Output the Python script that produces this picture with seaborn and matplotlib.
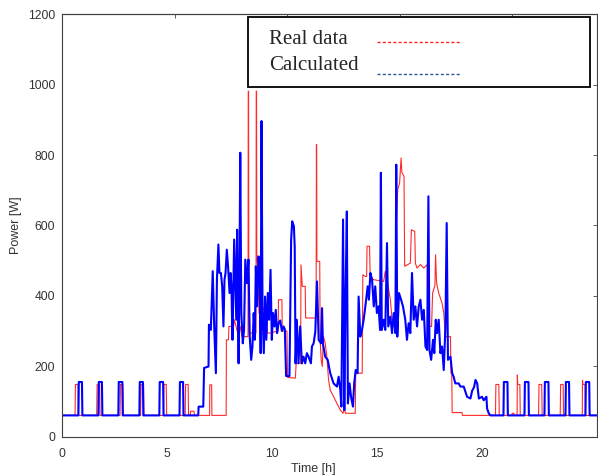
import matplotlib
matplotlib.use("Agg")
import matplotlib.pyplot as plt
import matplotlib.patches as mpatches
from matplotlib.lines import Line2D
import seaborn as sns
import pandas as pd

# ---------------- data (time [h], power [W]) ----------------
real_pts = [
    (0, 60), (0.62, 60), (0.64, 148), (0.76, 148), (0.78, 60),
    (1.65, 60), (1.67, 148), (1.79, 148), (1.81, 60),
    (2.76, 60), (2.78, 148), (2.90, 148), (2.92, 60),
    (3.74, 60), (3.76, 148), (3.88, 148), (3.90, 60),
    (4.83, 60), (4.85, 148), (4.96, 148), (4.98, 60),
    (5.86, 60), (5.88, 148), (6.00, 148), (6.02, 60),
    (6.10, 60), (6.12, 72), (6.28, 72), (6.30, 60),
    (7.02, 60), (7.03, 147), (7.12, 147), (7.13, 60),
    (7.81, 60), (7.82, 275), (7.92, 275), (7.94, 313), (8.16, 313), (8.20, 332),
    (8.40, 284), (8.48, 313), (8.56, 284), (8.85, 284), (8.86, 982), (8.875, 982),
    (8.885, 522), (8.91, 294), (9.23, 294), (9.24, 982), (9.255, 982), (9.265, 522),
    (9.32, 465), (9.37, 351), (9.43, 351), (9.55, 360), (9.67, 370), (9.78, 294),
    (9.90, 294), (10.28, 300), (10.30, 389), (10.46, 389), (10.48, 300), (10.70, 300),
    (10.73, 168), (11.10, 166), (11.14, 208), (11.35, 208), (11.37, 488), (11.43, 427),
    (11.57, 427), (11.59, 337), (12.09, 337), (12.10, 830), (12.115, 830), (12.125, 498),
    (12.26, 498), (12.28, 275), (12.33, 218), (12.38, 199), (12.44, 284), (12.52, 265),
    (12.60, 227), (12.68, 161), (12.76, 132), (12.92, 113), (13.08, 94), (13.24, 75),
    (13.37, 66), (13.43, 80), (13.49, 66), (13.95, 66), (13.97, 180), (14.28, 180),
    (14.31, 460), (14.43, 455), (14.49, 455), (14.51, 541), (14.63, 541), (14.66, 455),
    (14.82, 446), (15.30, 441), (15.38, 470), (15.46, 446), (15.62, 389), (15.70, 332),
    (15.86, 332), (15.90, 598), (15.97, 702), (16.06, 721), (16.13, 792), (16.17, 750),
    (16.27, 740), (16.30, 484), (16.57, 493), (16.62, 588), (16.78, 583), (16.81, 493),
    (16.89, 479), (17.05, 489), (17.21, 479), (17.37, 489), (17.40, 313), (17.58, 313),
    (17.63, 408), (17.74, 430), (17.77, 517), (17.82, 436), (17.92, 408), (18.08, 379),
    (18.16, 351), (18.24, 284), (18.48, 284), (18.50, 180), (18.54, 180), (18.56, 68),
    (19.03, 68), (19.05, 60),
    (20.62, 60), (20.64, 148), (20.78, 148), (20.80, 60),
    (21.40, 60), (21.42, 66), (21.50, 66), (21.52, 60),
    (21.65, 60), (21.66, 175), (21.68, 148), (21.78, 148), (21.80, 60),
    (22.67, 60), (22.69, 148), (22.82, 148), (22.84, 60),
    (23.70, 60), (23.72, 148), (23.84, 148), (23.86, 60),
    (24.75, 60), (24.76, 160), (24.78, 148), (24.88, 148), (24.90, 60),
    (25.45, 60),
]

calc_pts = [
    (0, 60), (0.78, 60), (0.80, 155), (0.95, 155), (0.97, 60),
    (1.73, 60), (1.75, 155), (1.90, 155), (1.92, 60),
    (2.68, 60), (2.70, 155), (2.87, 155), (2.89, 60),
    (3.68, 60), (3.70, 155), (3.85, 155), (3.87, 60),
    (4.63, 60), (4.65, 155), (4.81, 155), (4.83, 60),
    (5.59, 60), (5.61, 155), (5.76, 155), (5.78, 60),
    (6.48, 60), (6.50, 85), (6.72, 85), (6.76, 195), (6.97, 199), (6.99, 318),
    (7.08, 303), (7.17, 470), (7.24, 313), (7.32, 180), (7.37, 446), (7.44, 546),
    (7.49, 465), (7.56, 465), (7.62, 427), (7.68, 313), (7.73, 446), (7.78, 465),
    (7.84, 531), (7.90, 484), (7.97, 408), (8.02, 465), (8.06, 427), (8.11, 275),
    (8.19, 560), (8.24, 446), (8.29, 332), (8.33, 588), (8.40, 208), (8.44, 446),
    (8.48, 807), (8.53, 351), (8.60, 265), (8.66, 303), (8.72, 503), (8.80, 436),
    (8.87, 503), (8.93, 284), (9.00, 218), (9.06, 256), (9.12, 351), (9.17, 275),
    (9.22, 484), (9.28, 370), (9.35, 512), (9.41, 446), (9.45, 237), (9.49, 897),
    (9.54, 351), (9.60, 237), (9.66, 398), (9.72, 275), (9.79, 408), (9.85, 332),
    (9.92, 474), (9.98, 275), (10.04, 351), (10.11, 313), (10.17, 360), (10.23, 294),
    (10.30, 322), (10.38, 330), (10.46, 300), (10.54, 313), (10.60, 305), (10.66, 172),
    (10.82, 172), (10.90, 560), (10.95, 612), (11.03, 598), (11.07, 540), (11.11, 208),
    (11.17, 332), (11.25, 208), (11.33, 313), (11.41, 208), (11.49, 227), (11.57, 208),
    (11.65, 237), (11.73, 227), (11.84, 208), (11.89, 256), (11.97, 265), (12.05, 298),
    (12.13, 441), (12.21, 275), (12.32, 265), (12.37, 365), (12.41, 265), (12.52, 227),
    (12.64, 218), (12.76, 180), (12.92, 151), (13.08, 142), (13.16, 170), (13.24, 132),
    (13.29, 85), (13.37, 617), (13.43, 75), (13.49, 408), (13.55, 640), (13.60, 94),
    (13.68, 151), (13.75, 113), (13.84, 85), (13.90, 151), (13.97, 189), (14.06, 180),
    (14.11, 398), (14.19, 284), (14.27, 303), (14.35, 332), (14.43, 370), (14.54, 427),
    (14.60, 389), (14.67, 465), (14.75, 446), (14.83, 370), (14.90, 427), (14.98, 351),
    (15.06, 370), (15.13, 303), (15.17, 750), (15.21, 303), (15.30, 332), (15.38, 303),
    (15.46, 550), (15.52, 313), (15.62, 341), (15.70, 294), (15.78, 351), (15.86, 294),
    (15.90, 773), (15.95, 284), (16.03, 408), (16.13, 389), (16.22, 370), (16.33, 332),
    (16.41, 275), (16.49, 322), (16.57, 294), (16.65, 465), (16.73, 332), (16.81, 370),
    (16.89, 313), (16.97, 370), (17.05, 389), (17.13, 332), (17.21, 360), (17.29, 256),
    (17.37, 246), (17.43, 683), (17.48, 246), (17.56, 218), (17.65, 275), (17.71, 237),
    (17.78, 332), (17.84, 294), (17.92, 332), (18.00, 237), (18.08, 256), (18.16, 189),
    (18.24, 313), (18.30, 607), (18.36, 218), (18.48, 227), (18.56, 180), (18.63, 170),
    (18.71, 151), (18.87, 151), (18.95, 142), (19.11, 142), (19.27, 113), (19.43, 108),
    (19.51, 130), (19.60, 140), (19.67, 161), (19.75, 151), (19.83, 108), (19.98, 113),
    (20.06, 103), (20.19, 113), (20.22, 80), (20.30, 66), (20.38, 60),
    (21.00, 60), (21.02, 155), (21.19, 155), (21.21, 60),
    (22.00, 60), (22.02, 155), (22.19, 155), (22.21, 60),
    (22.95, 60), (22.97, 155), (23.14, 155), (23.16, 60),
    (23.95, 60), (23.97, 155), (24.12, 155), (24.14, 60),
    (24.90, 60), (24.92, 155), (25.08, 155), (25.10, 60),
    (25.45, 60),
]

x_ticks = [0, 5, 10, 15, 20]
y_ticks = [0, 200, 400, 600, 800, 1000, 1200]
legend_labels = ["Real data", "Calculated"]

real_df = pd.DataFrame(real_pts, columns=["t", "p"])
calc_df = pd.DataFrame(calc_pts, columns=["t", "p"])

# ---------------- figure ----------------
sns.set_style("white")
plt.rcParams["font.family"] = ["Liberation Sans", "DejaVu Sans"]

W, H = 598, 475
fig = plt.figure(figsize=(W / 100, H / 100), dpi=100)
ax = fig.add_axes([62 / W, (H - 436.5) / H, 535 / W, 422 / H])

sns.lineplot(data=real_df, x="t", y="p", sort=False, estimator=None,
             color="#ff2a2a", lw=0.8, ax=ax)
sns.lineplot(data=calc_df, x="t", y="p", sort=False, estimator=None,
             color="#0000ff", lw=1.5, ax=ax)

ax.set_xlim(0, 25.45)
ax.set_ylim(0, 1200)
ax.set_xticks(x_ticks)
ax.set_yticks(y_ticks)
ax.set_xticklabels([str(v) for v in x_ticks])
ax.set_yticklabels([str(v) for v in y_ticks])

axcol = "#404040"
for s in ax.spines.values():
    s.set_visible(True)
    s.set_color(axcol)
    s.set_linewidth(0.8)
ax.tick_params(axis="both", direction="in", length=3, width=0.6, color=axcol,
               labelcolor="#333333", labelsize=8.7)
ax.tick_params(axis="y", right=True, pad=5)
ax.tick_params(axis="x", pad=8)

# top tick marks (as in the source figure)
sec = ax.secondary_xaxis("top", functions=(lambda x: x * 21.0 / 22.5,
                                           lambda x: x * 22.5 / 21.0))
sec.set_xticks(x_ticks)
sec.tick_params(direction="in", length=3, width=0.6, color=axcol, labeltop=False)
sec.spines["top"].set_color(axcol)
sec.spines["top"].set_linewidth(0.8)

ax.set_xlabel("Time [h]", fontsize=9, color="#333333")
ax.set_ylabel("Power [W]", fontsize=9, color="#333333")
# xlabel top at ~463 px, centred at x ~313 px
ax.xaxis.set_label_coords((313 - 62) / 535, -(463 - 436.5) / 422)
# ylabel right edge at ~22 px
ax.yaxis.set_label_coords(-(62 - 22.5) / 535, 0.5)

# ---------------- legend box (figure coordinates) ----------------
def fx(px):
    return px / W


def fy(py):
    return (H - py) / H


fig.patches.append(mpatches.Rectangle((fx(248), fy(87)), fx(590) - fx(248),
                                      fy(17) - fy(87), transform=fig.transFigure,
                                      facecolor="white", edgecolor="black",
                                      linewidth=1.3, zorder=5))
fig.text(fx(269), fy(40), legend_labels[0], family=["Liberation Serif", "DejaVu Serif"],
         fontsize=15, va="center", ha="left", zorder=6)
fig.text(fx(269), fy(66), legend_labels[1], family=["Liberation Serif", "DejaVu Serif"],
         fontsize=15, va="center", ha="left", zorder=6)
fig.lines.append(Line2D([fx(377), fx(460)], [fy(41.5), fy(41.5)], transform=fig.transFigure,
                        color="#ff2020", lw=1.0, linestyle=(0, (2.2, 1.6)), zorder=6))
fig.lines.append(Line2D([fx(377), fx(460)], [fy(73.5), fy(73.5)], transform=fig.transFigure,
                        color="#2f5597", lw=1.0, linestyle=(0, (2.2, 1.6)), zorder=6))

fig.savefig("out.png", dpi=100)
